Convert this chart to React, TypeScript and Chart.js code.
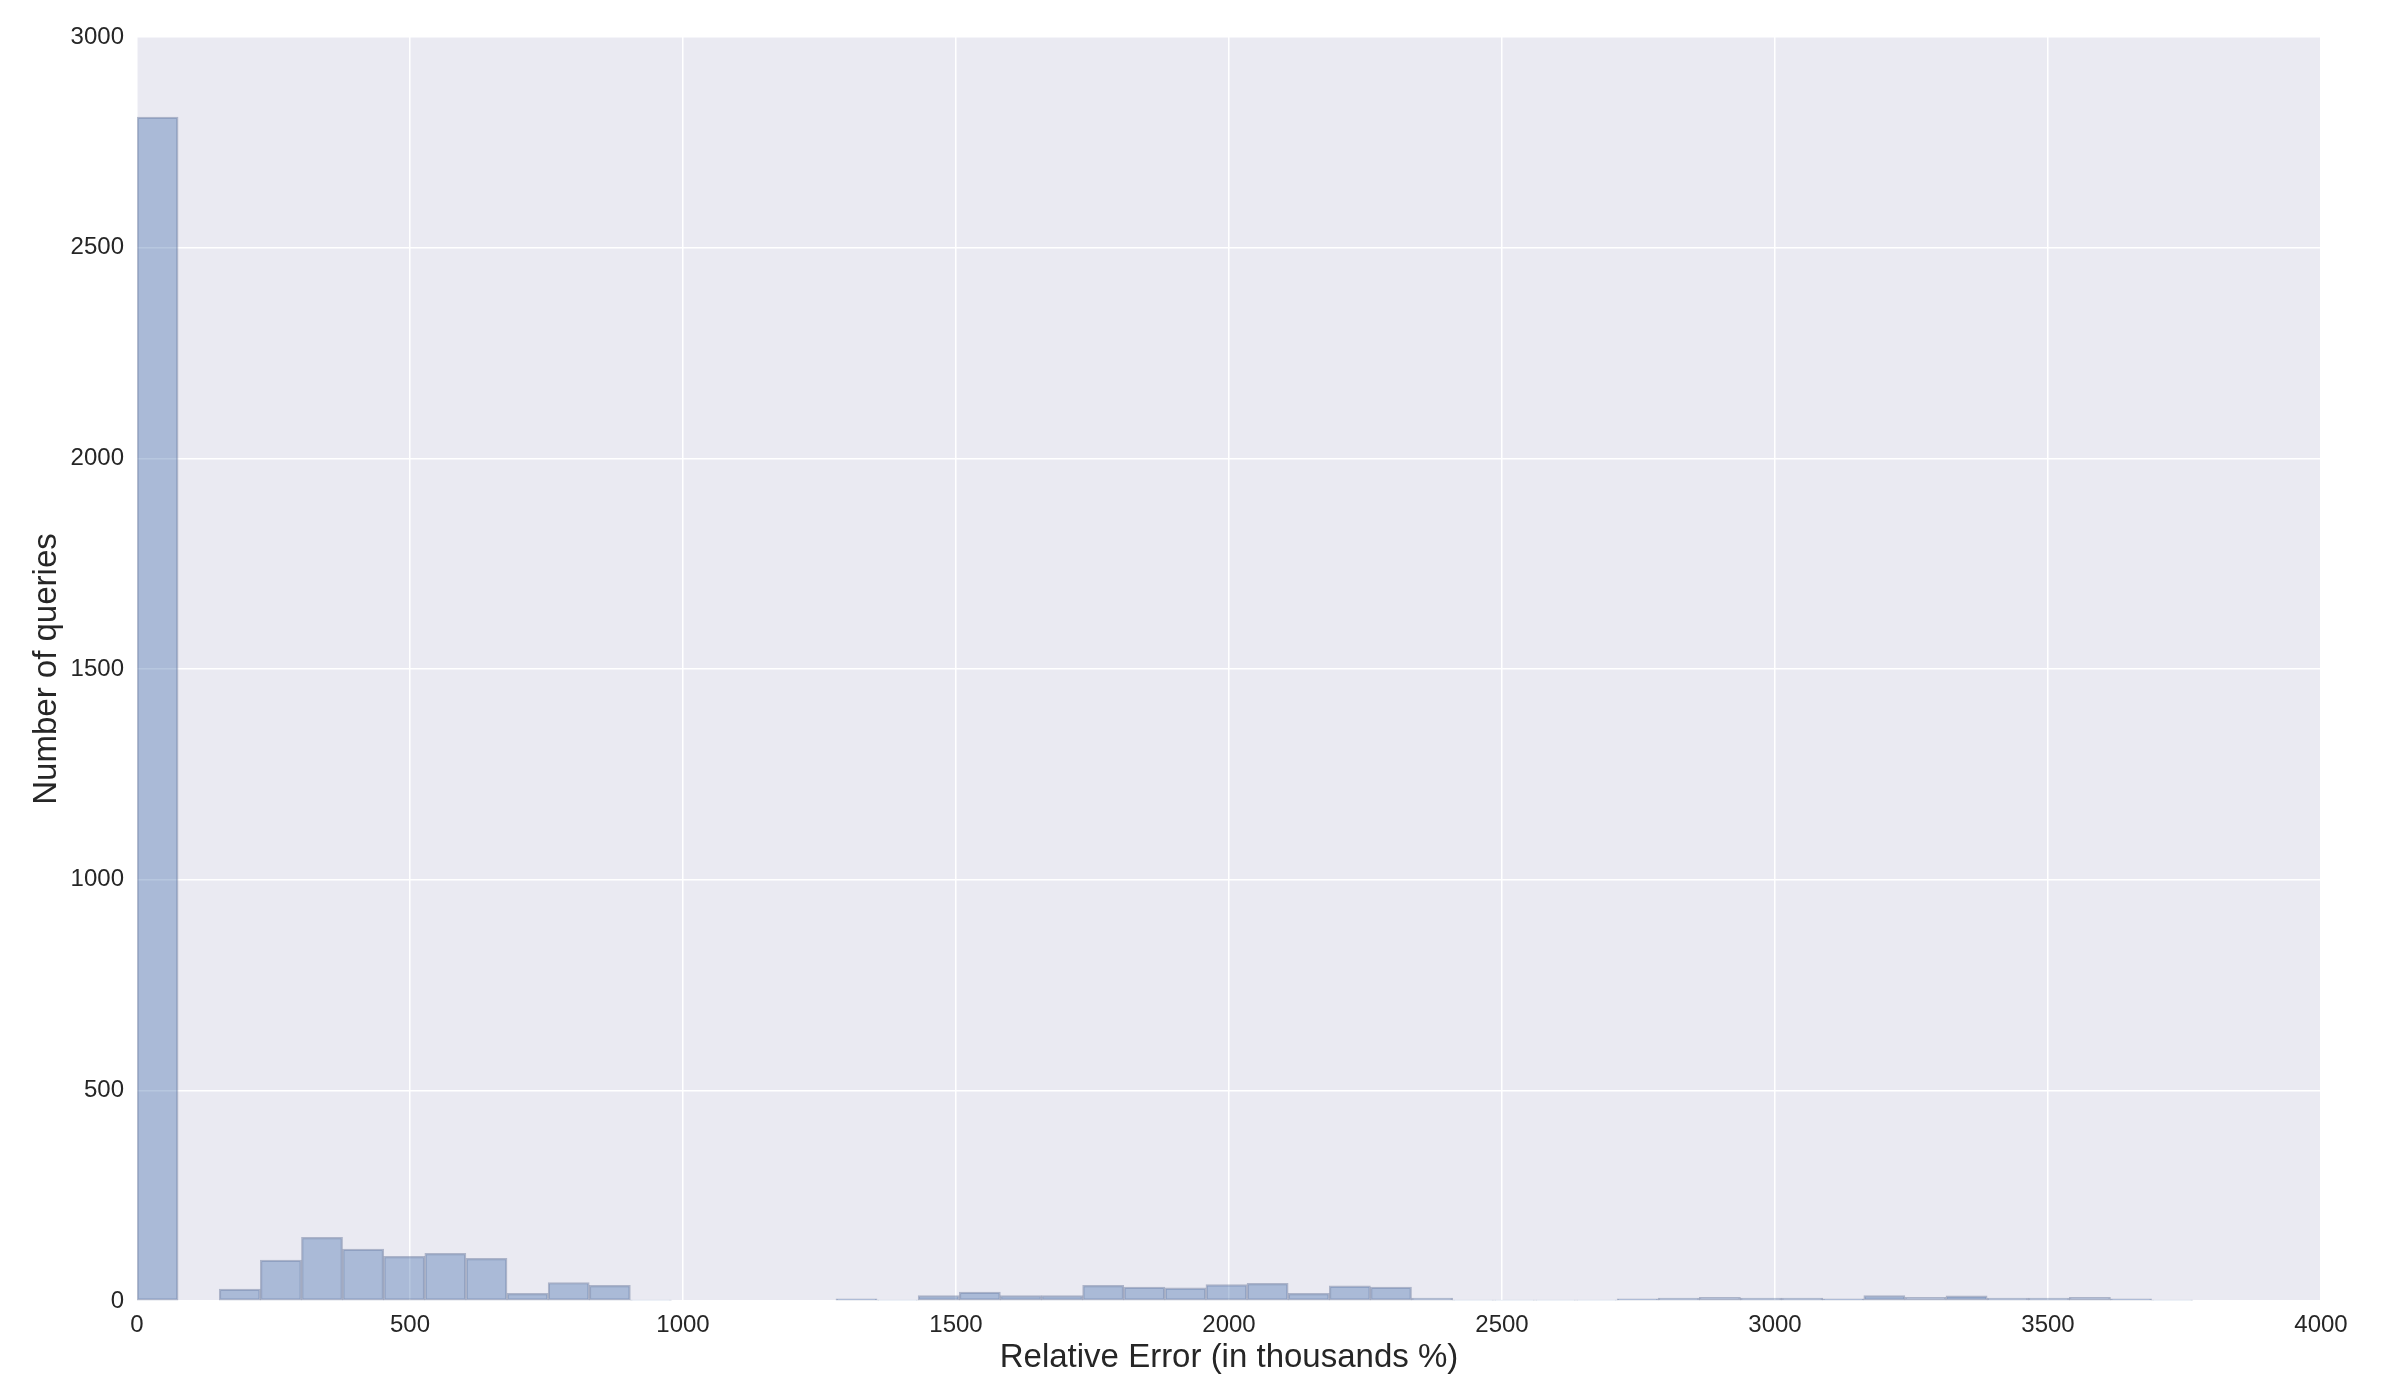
import React, { useEffect, useRef } from "react";
import { Chart, registerables } from "chart.js";

Chart.register(...registerables);

// Histogram of relative errors: 50 equal bins from HIST_MIN to HIST_MAX
const HIST_MIN = 0;
const HIST_MAX = 3765;
const binCounts = [
  2810, 0, 28, 97, 151, 123, 106, 113, 101, 18,
  44, 37, 2, 0, 0, 0, 0, 5, 2, 13,
  21, 13, 13, 37, 33, 31, 39, 42, 18, 36,
  33, 7, 2, 2, 2, 2, 5, 7, 9, 7,
  7, 5, 13, 9, 12, 7, 7, 9, 5, 2,
];
const xTicks = [0, 500, 1000, 1500, 2000, 2500, 3000, 3500, 4000];
const yTicks = [0, 500, 1000, 1500, 2000, 2500, 3000];
const xTitle = "Relative Error (in thousands %)";
const yTitle = "Number of queries";

const FONT = "'Liberation Sans', Arial, Helvetica, sans-serif";

const plotBg = {
  id: "plotBg",
  beforeDraw(chart: any) {
    const { ctx, chartArea } = chart;
    ctx.save();
    ctx.fillStyle = "#EAEAF2";
    ctx.fillRect(chartArea.left, chartArea.top, chartArea.right - chartArea.left, chartArea.bottom - chartArea.top);
    ctx.restore();
  },
};

export default function App() {
  const ref = useRef<HTMLCanvasElement | null>(null);

  useEffect(() => {
    if (!ref.current) return;
    const binWidth = (HIST_MAX - HIST_MIN) / binCounts.length;
    const data = binCounts.map((c, i) => ({ x: HIST_MIN + binWidth * (i + 0.5), y: c }));
    const chart = new Chart(ref.current, {
      type: "bar",
      data: {
        datasets: [
          {
            data,
            backgroundColor: "rgba(76,114,176,0.4)",
            borderColor: "rgba(100,115,150,0.45)",
            borderWidth: 1.5,
            borderSkipped: false,
            barPercentage: 1,
            categoryPercentage: 1,
          },
        ],
      },
      options: {
        animation: false,
        responsive: false,
        layout: { padding: { top: 37, right: 79, left: 0, bottom: 0 } },
        plugins: { legend: { display: false }, tooltip: { enabled: false } },
        scales: {
          x: {
            type: "linear",
            min: 0,
            max: 4000,
            offset: false,
            afterBuildTicks: (s: any) => {
              s.ticks = xTicks.map((v) => ({ value: v }));
            },
            afterFit: (s: any) => {
              s.height = 79;
            },
            grid: { color: "#FFFFFF", lineWidth: 1.5, drawTicks: false, offset: false },
            border: { display: false },
            ticks: {
              color: "#262626",
              font: { family: FONT, size: 24 },
              padding: 10,
              maxRotation: 0,
              callback: (v: any) => String(v),
            },
            title: {
              display: true,
              text: xTitle,
              color: "#262626",
              font: { family: FONT, size: 33 },
              padding: { top: 0, bottom: 2 },
            },
          },
          y: {
            type: "linear",
            min: 0,
            max: 3000,
            afterBuildTicks: (s: any) => {
              s.ticks = yTicks.map((v) => ({ value: v }));
            },
            afterFit: (s: any) => {
              s.width = 137;
            },
            grid: { color: "#FFFFFF", lineWidth: 1.5, drawTicks: false },
            border: { display: false },
            ticks: {
              color: "#262626",
              font: { family: FONT, size: 24 },
              padding: 13,
              callback: (v: any) => String(v),
            },
            title: {
              display: true,
              text: yTitle,
              color: "#262626",
              font: { family: FONT, size: 33 },
              padding: { top: 27, bottom: 0 },
            },
          },
        },
      },
      plugins: [plotBg],
    });
    return () => chart.destroy();
  }, []);

  return (
    <div style={{ position: "absolute", left: 0, top: 0, width: 2400, height: 1380, background: "#FFFFFF" }}>
      <canvas ref={ref} width={2400} height={1380} style={{ display: "block", width: 2400, height: 1380 }} />
    </div>
  );
}
